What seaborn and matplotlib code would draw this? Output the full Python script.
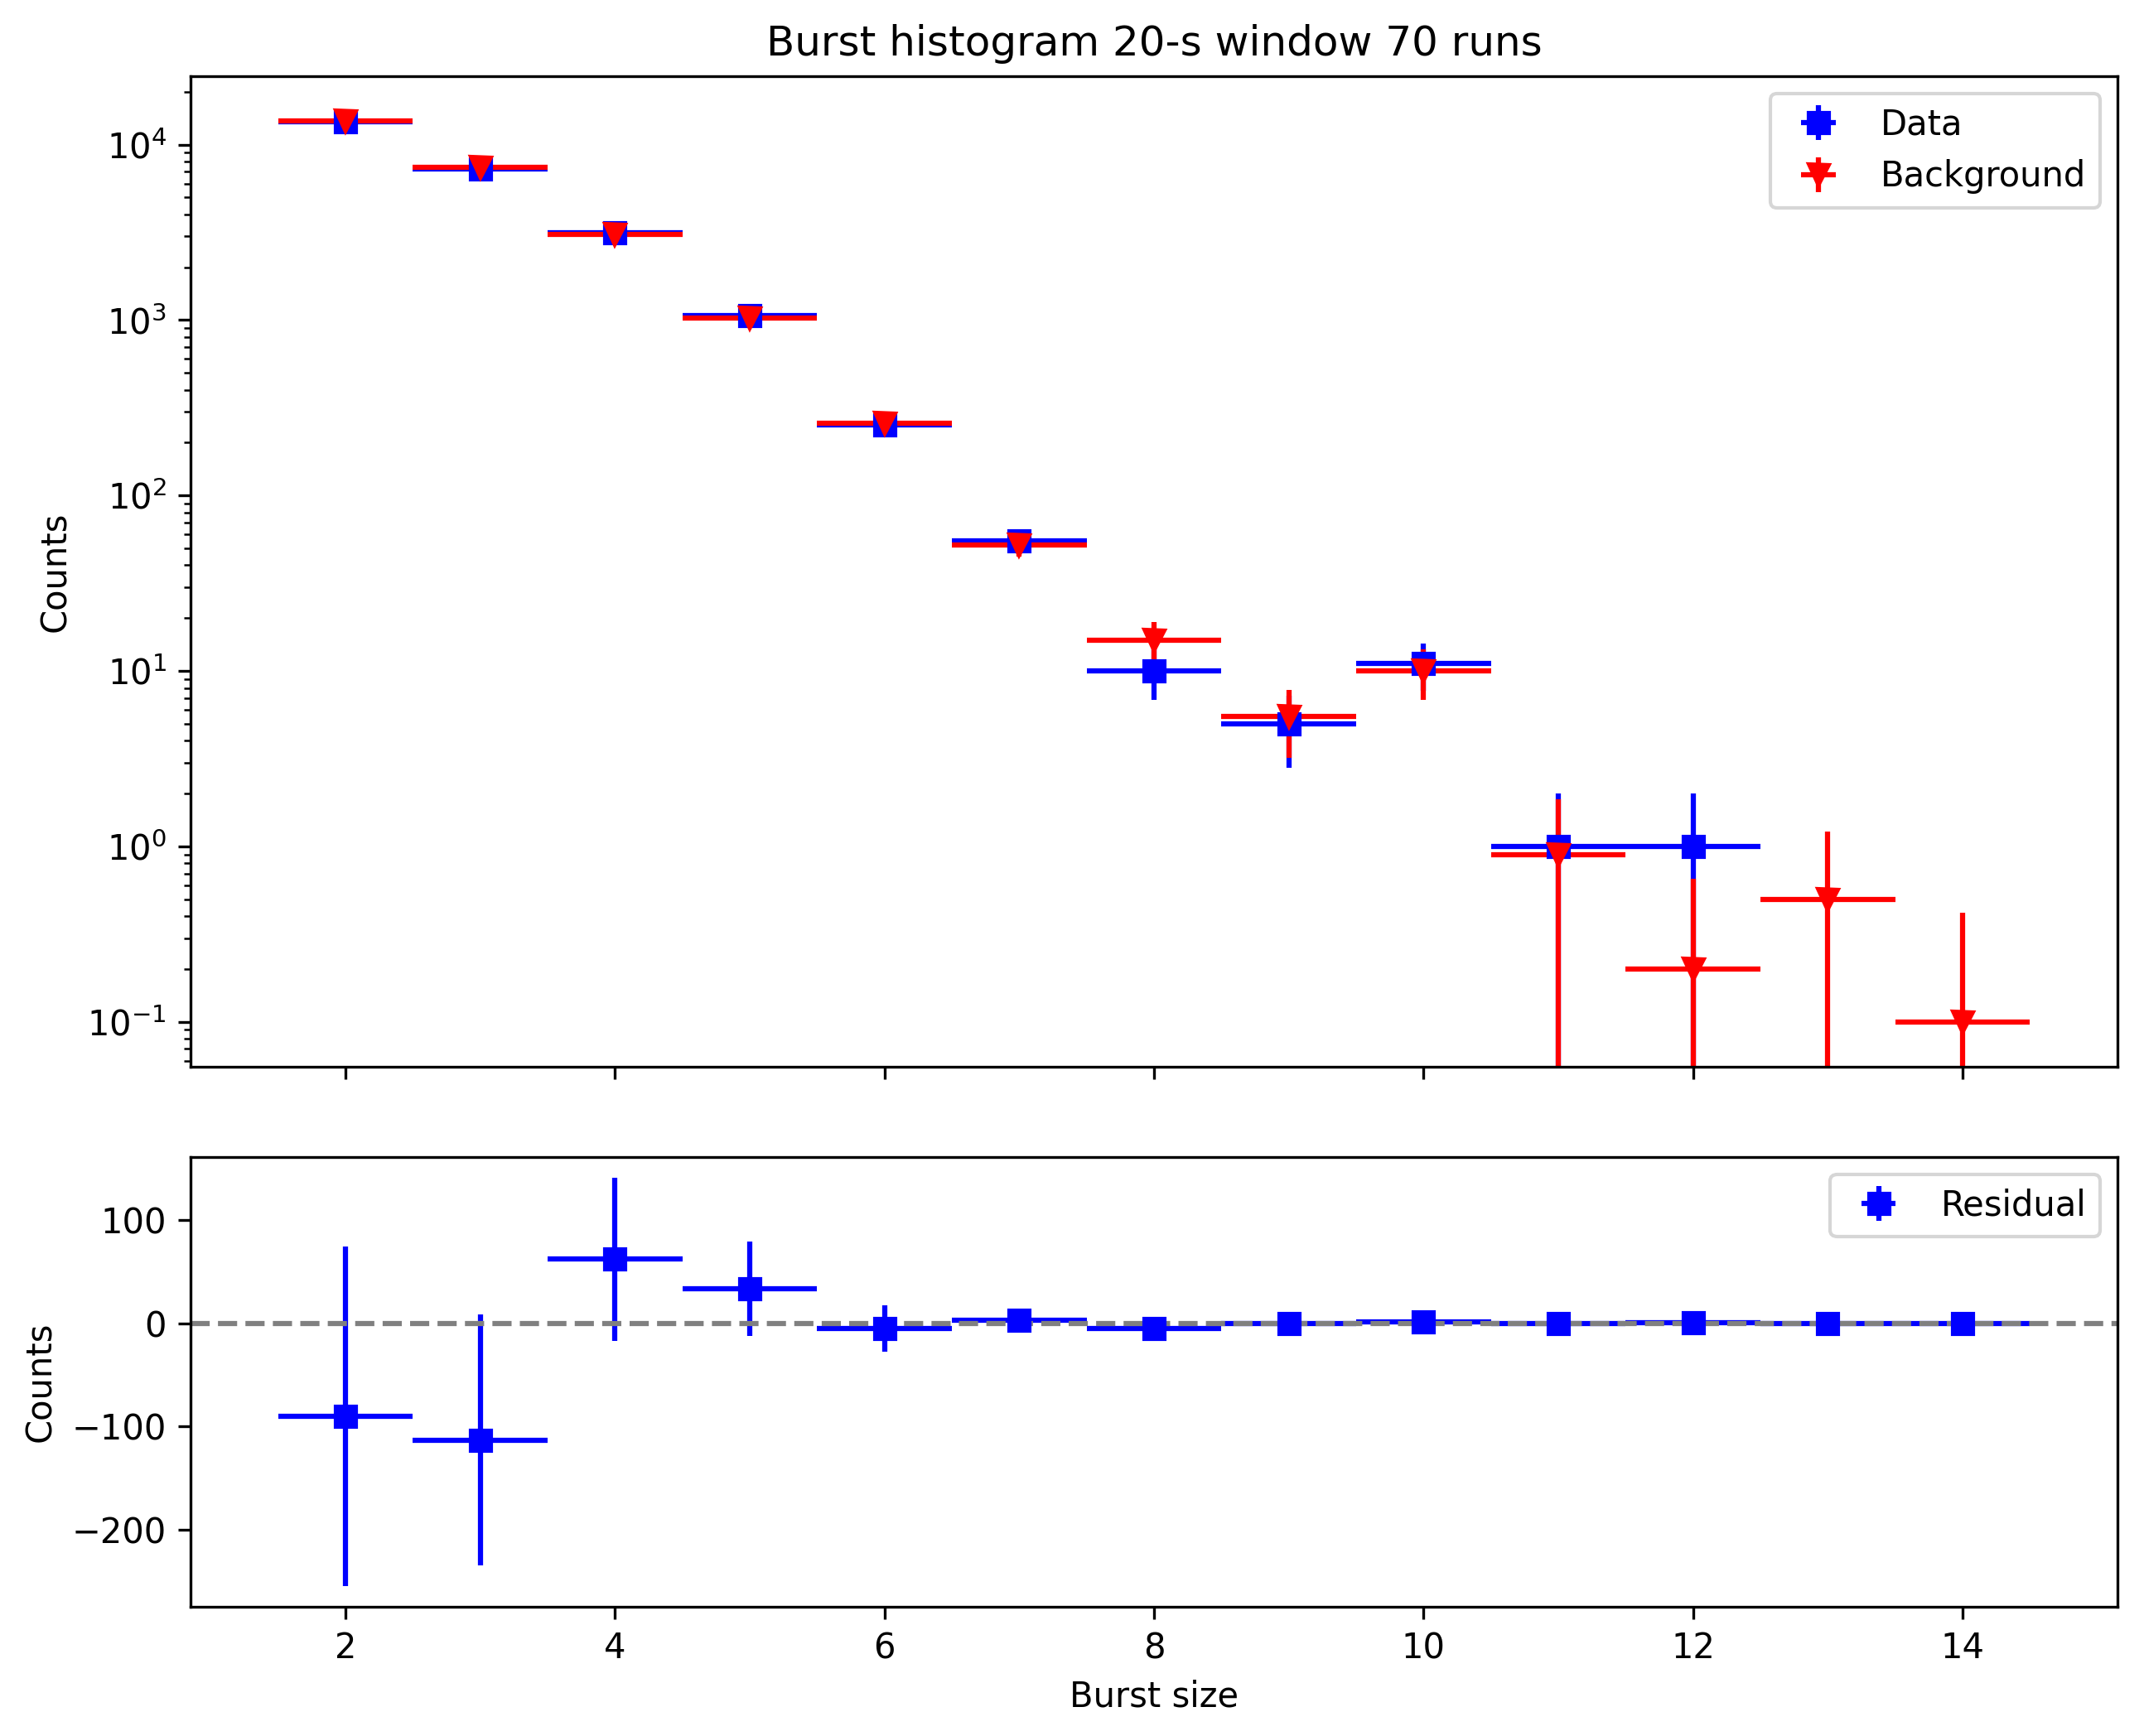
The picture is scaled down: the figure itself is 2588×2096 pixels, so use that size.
import numpy as np
import matplotlib
matplotlib.use("Agg")
import matplotlib.pyplot as plt
import seaborn as sns

# burst histogram values
burst_size = [2, 3, 4, 5, 6, 7, 8, 9, 10, 11, 12, 13, 14]
data_counts = [13500, 7300, 3150, 1060, 252, 55, 10, 5, 11, 1, 1, 0, 0]
data_err = [116.2, 85.4, 56.1, 32.6, 15.9, 7.4, 3.2, 2.2, 3.3, 1.0, 1.0, 0.0, 0.0]
bkg_counts = [13590, 7413, 3088, 1027, 257, 52, 15, 5.5, 10, 0.9, 0.2, 0.5, 0.1]
bkg_err = [116.6, 86.1, 55.6, 32.0, 16.0, 7.2, 3.9, 2.3, 3.2, 0.95, 0.45, 0.71, 0.32]
residual = [-90, -113, 62, 33, -5, 3, -5, -0.5, 1, 0.1, 0.8, -0.5, -0.1]
residual_err = [164.6, 121.2, 79.0, 45.7, 22.6, 10.3, 5.0, 3.2, 4.6, 1.38, 1.1, 0.71, 0.32]
bin_half = [0.5] * len(burst_size)

sns.set_style("ticks", rc={
    "axes.edgecolor": "black",
    "axes.labelcolor": "black",
    "text.color": "black",
    "xtick.color": "black",
    "ytick.color": "black",
    "lines.solid_capstyle": "projecting",
    "axes.axisbelow": "line",
})
plt.rcParams["font.family"] = ["DejaVu Sans"]

fig = plt.figure(figsize=(2588 / 300, 2096 / 300), dpi=300)
ax_top = fig.add_axes([0.0889, 0.3855, 0.8987, 0.5706])
ax_bot = fig.add_axes([0.0889, 0.0744, 0.8987, 0.2591], sharex=ax_top)

ax_top.set_yscale("log")
ax_top.errorbar(burst_size, data_counts, xerr=bin_half, yerr=data_err,
                fmt="s", color="blue", label="Data")
ax_top.errorbar(burst_size, bkg_counts, xerr=bin_half, yerr=bkg_err,
                fmt="v", color="red", label="Background")
ax_top.set_ylabel("Counts")
ax_top.set_title("Burst histogram 20-s window 70 runs")
ax_top.legend(loc="upper right")
ax_top.tick_params(labelbottom=False)

ax_bot.errorbar(burst_size, residual, xerr=bin_half, yerr=residual_err,
                fmt="s", color="blue", label="Residual")
ax_bot.axhline(0, color="gray", linestyle="--", linewidth=1.5)
ax_bot.set_xlabel("Burst size")
ax_bot.set_ylabel("Counts")
ax_bot.legend(loc="upper right")

fig.savefig("out.png", dpi=300)
